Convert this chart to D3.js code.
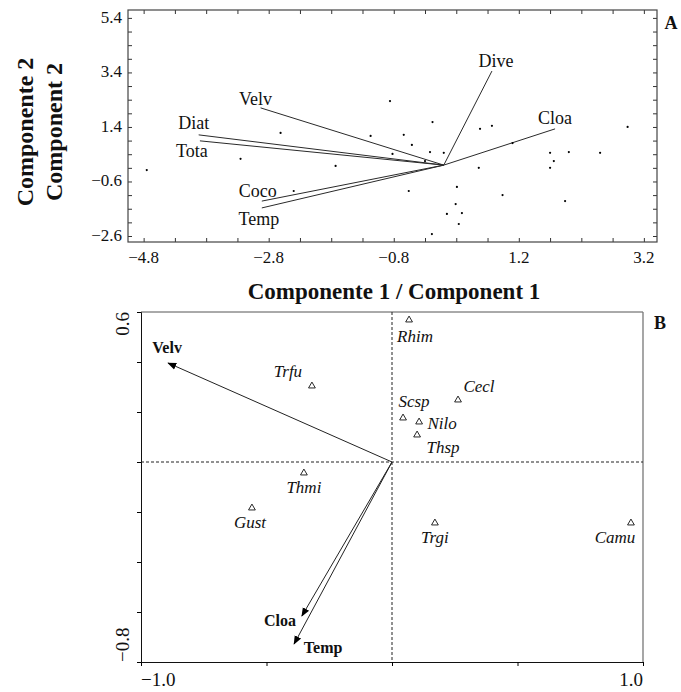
<!DOCTYPE html>
<html>
<head>
<meta charset="utf-8">
<script src="https://cdn.jsdelivr.net/npm/d3@7"></script>
<style>
body{margin:0;background:#fff}
svg text{font-family:"Liberation Serif","Times New Roman",serif;fill:#111}
</style>
</head>
<body>
<script>
// panel A: variable vectors (PCA loadings)
var varNames = ["Dive", "Cloa", "Velv", "Diat", "Tota", "Coco", "Temp"]
var varX = [0.77, 1.78, -2.93, -3.92, -3.90, -2.91, -2.91]
var varY = [3.45, 1.33, 2.10, 1.11, 0.89, -1.32, -1.57]

// panel A: sample scores
var sampX = [-4.75, -2.61, -3.25, -1.73, -2.40, -0.86, -0.18, -1.17, -0.64, -0.51, -0.82, -0.22, 0.00, -0.30,
             0.58, 0.77, 0.56, 1.10, 1.70, 1.76, 1.70, 2.00, 2.50, 2.94, -0.56, 0.21, 0.94, 1.94, 0.19, 0.05, 0.29, 0.24, -0.19]
var sampY = [-0.18, 1.18, 0.23, -0.03, -0.95, 2.35, 1.58, 1.07, 1.11, 0.74, 0.41, 0.48, 0.45, 0.15,
             1.33, 1.44, -0.10, 0.81, 0.45, 0.15, -0.10, 0.48, 0.45, 1.40, -0.95, -0.80, -1.10, -1.32, -1.43, -1.79, -1.76, -2.16, -2.53]

var xLabelsA = [-4.8, -2.8, -0.8, 1.2, 3.2]
var yLabelsA = [-2.6, -0.6, 1.4, 3.4, 5.4]

// panel B: environmental arrows and species
var envNames = ["Velv", "Cloa", "Temp"]
var envX = [-0.892, -0.359, -0.39]
var envY = [0.396, -0.616, -0.728]

var sppNames = ["Rhim", "Cecl", "Scsp", "Nilo", "Thsp", "Trgi", "Camu", "Trfu", "Thmi", "Gust"]
var sppX = [0.068, 0.263, 0.044, 0.108, 0.100, 0.171, 0.952, -0.319, -0.351, -0.558]
var sppY = [0.568, 0.248, 0.176, 0.160, 0.108, -0.244, -0.244, 0.304, -0.044, -0.184]

var xTicksB = [-1.0, -0.5, 0, 0.5, 1.0]
var yTicksB = [0.6, 0.4, 0.2, 0, -0.2, -0.4, -0.6, -0.8]
var xLabelsB = [-1.0, 1.0]
var yLabelsB = [-0.8, 0.6]

// label offsets (layout only)
var varLab = {Dive:[4,-4], Cloa:[0,-5], Velv:[-5,-3], Diat:[-5,-6], Tota:[-8,16], Coco:[-4,-4], Temp:[-3,17]}
var envLab = {Velv:[-1,-10], Cloa:[-22,10], Temp:[29,9]}
var sppLab = {Rhim:[6,22], Cecl:[21,-8], Scsp:[11,-11], Nilo:[23,7], Thsp:[26,18],
              Trgi:[0,20], Camu:[-16,20], Trfu:[-24,-9], Thmi:[0,20], Gust:[-2,20]}

var width = 681, height = 692
var svg = d3.select("body").append("svg")
    .attr("width", width).attr("height", height)

var fmt = d3.format(".1f")

/* ---------------- panel A ---------------- */
var xA = d3.scaleLinear().domain([-5.05, 3.41]).range([128, 657])
var yA = d3.scaleLinear().domain([-2.82, 5.69]).range([242, 10])
var gA = svg.append("g")

var minorX = d3.range(0, 17).map(function(i){ return -4.8 + i * 0.5 })
var minorY = d3.range(0, 17).map(function(i){ return -2.6 + i * 0.5 })

function styleAxis(g, col){
  g.select(".domain").remove()
  g.selectAll(".tick line").attr("stroke", col)
}

gA.append("g").attr("transform", "translate(0,242)")
  .call(d3.axisBottom(xA).tickValues(minorX).tickSize(-4).tickFormat(""))
  .call(styleAxis, "#333")
gA.append("g").attr("transform", "translate(0,10)")
  .call(d3.axisTop(xA).tickValues(minorX).tickSize(-4).tickFormat(""))
  .call(styleAxis, "#333")
gA.append("g").attr("transform", "translate(128,0)")
  .call(d3.axisLeft(yA).tickValues(minorY).tickSize(-4).tickFormat(""))
  .call(styleAxis, "#333")
gA.append("g").attr("transform", "translate(657,0)")
  .call(d3.axisRight(yA).tickValues(minorY).tickSize(-4).tickFormat(""))
  .call(styleAxis, "#333")

gA.append("rect")
  .attr("x", 128).attr("y", 10).attr("width", 657 - 128).attr("height", 242 - 10)
  .attr("fill", "none").attr("stroke", "#444").attr("stroke-width", 1.2)

gA.selectAll(".xlab").data(xLabelsA).enter().append("text")
  .attr("x", function(d){ return xA(d) }).attr("y", 263)
  .attr("text-anchor", "middle").attr("font-size", 17)
  .text(fmt)
gA.selectAll(".ylab").data(yLabelsA).enter().append("text")
  .attr("x", 122).attr("y", function(d){ return yA(d) + 5 })
  .attr("text-anchor", "end").attr("font-size", 17)
  .text(fmt)

var vecA = varNames.map(function(n, i){ return {name: n, x: varX[i], y: varY[i]} })
gA.selectAll(".vec").data(vecA).enter().append("line")
  .attr("x1", xA(0)).attr("y1", yA(0))
  .attr("x2", function(d){ return xA(d.x) }).attr("y2", function(d){ return yA(d.y) })
  .attr("stroke", "#2a2a2a").attr("stroke-width", 1)
gA.selectAll(".vlab").data(vecA).enter().append("text")
  .attr("x", function(d){ return xA(d.x) + varLab[d.name][0] })
  .attr("y", function(d){ return yA(d.y) + varLab[d.name][1] })
  .attr("text-anchor", "middle").attr("font-size", 18)
  .text(function(d){ return d.name })

gA.selectAll(".pt").data(sampX).enter().append("circle")
  .attr("cx", function(d){ return xA(d) })
  .attr("cy", function(d, i){ return yA(sampY[i]) })
  .attr("r", 1.1).attr("fill", "#000")

gA.append("text").attr("x", 394).attr("y", 299)
  .attr("text-anchor", "middle").attr("font-size", 23).attr("font-weight", "bold")
  .text("Componente 1 / Component 1")
gA.append("text").attr("transform", "translate(33,132) rotate(-90)")
  .attr("text-anchor", "middle").attr("font-size", 24).attr("font-weight", "bold")
  .text("Componente 2")
gA.append("text").attr("transform", "translate(62,132) rotate(-90)")
  .attr("text-anchor", "middle").attr("font-size", 24).attr("font-weight", "bold")
  .text("Component 2")
gA.append("text").attr("x", 671).attr("y", 29)
  .attr("text-anchor", "middle").attr("font-size", 18).attr("font-weight", "bold")
  .text("A")

/* ---------------- panel B ---------------- */
var xB = d3.scaleLinear().domain([-1, 1]).range([141, 643])
var yB = d3.scaleLinear().domain([-0.8, 0.6]).range([662, 312])
var gB = svg.append("g")

svg.append("defs").append("marker")
    .attr("id", "head").attr("viewBox", "0 0 10 10")
    .attr("refX", 9).attr("refY", 5)
    .attr("markerWidth", 9).attr("markerHeight", 9)
    .attr("markerUnits", "userSpaceOnUse")
    .attr("orient", "auto")
  .append("path").attr("d", "M0,1 L10,5 L0,9 Z").attr("fill", "#000")

// frame: top / right in gray
gB.append("line").attr("x1", 141).attr("x2", 643).attr("y1", 312).attr("y2", 312)
  .attr("stroke", "#555")
gB.append("line").attr("x1", 643).attr("x2", 643).attr("y1", 312).attr("y2", 662)
  .attr("stroke", "#777").attr("stroke-width", 1.3)

gB.append("g").attr("transform", "translate(0,662)")
  .call(d3.axisBottom(xB).tickValues(xTicksB).tickSize(4).tickFormat(""))
  .call(function(g){ g.select(".domain").attr("stroke", "#111") })
gB.append("g").attr("transform", "translate(141,0)")
  .call(d3.axisLeft(yB).tickValues(yTicksB).tickSize(4).tickFormat(""))
  .call(function(g){ g.select(".domain").attr("stroke", "#111") })

// zero lines
gB.append("line").attr("x1", xB(0)).attr("x2", xB(0)).attr("y1", 312).attr("y2", 662)
  .attr("stroke", "#222").attr("stroke-dasharray", "3,2")
gB.append("line").attr("x1", 141).attr("x2", 643).attr("y1", yB(0)).attr("y2", yB(0))
  .attr("stroke", "#222").attr("stroke-dasharray", "3,2")

gB.selectAll(".xlabB").data(xLabelsB).enter().append("text")
  .attr("x", function(d){ return xB(d) }).attr("y", 686)
  .attr("text-anchor", function(d){ return d < 0 ? "start" : "end" })
  .attr("font-size", 19)
  .text(fmt)
gB.selectAll(".ylabB").data(yLabelsB).enter().append("text")
  .attr("transform", function(d){ return "translate(129," + yB(d) + ") rotate(-90)" })
  .attr("text-anchor", function(d){ return d < 0 ? "start" : "end" })
  .attr("font-size", 19)
  .text(fmt)

var envB = envNames.map(function(n, i){ return {name: n, x: envX[i], y: envY[i]} })
gB.selectAll(".env").data(envB).enter().append("line")
  .attr("x1", xB(0)).attr("y1", yB(0))
  .attr("x2", function(d){ return xB(d.x) }).attr("y2", function(d){ return yB(d.y) })
  .attr("stroke", "#222").attr("stroke-width", 1)
  .attr("marker-end", "url(#head)")
gB.selectAll(".elab").data(envB).enter().append("text")
  .attr("x", function(d){ return xB(d.x) + envLab[d.name][0] })
  .attr("y", function(d){ return yB(d.y) + envLab[d.name][1] })
  .attr("text-anchor", "middle").attr("font-size", 16).attr("font-weight", "bold")
  .text(function(d){ return d.name })

var spp = sppNames.map(function(n, i){ return {name: n, x: sppX[i], y: sppY[i]} })
var tri = d3.symbol().type(d3.symbolTriangle).size(20)
gB.selectAll(".sp").data(spp).enter().append("path")
  .attr("d", tri)
  .attr("transform", function(d){ return "translate(" + xB(d.x) + "," + yB(d.y) + ")" })
  .attr("fill", "#fff").attr("stroke", "#111").attr("stroke-width", 0.9)
gB.selectAll(".slab").data(spp).enter().append("text")
  .attr("x", function(d){ return xB(d.x) + sppLab[d.name][0] })
  .attr("y", function(d){ return yB(d.y) + sppLab[d.name][1] })
  .attr("text-anchor", "middle").attr("font-size", 17).attr("font-style", "italic")
  .attr("fill", "#222")
  .text(function(d){ return d.name })

gB.append("text").attr("x", 660).attr("y", 329)
  .attr("text-anchor", "middle").attr("font-size", 18).attr("font-weight", "bold")
  .text("B")
</script>
</body>
</html>
